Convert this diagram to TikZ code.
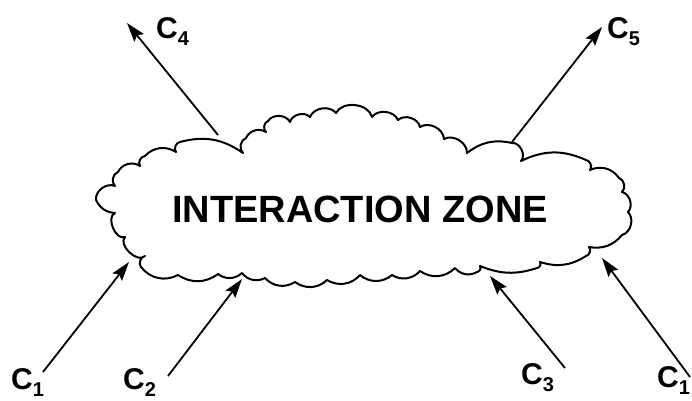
\documentclass[tikz,border=0pt]{standalone}
\usepackage{fontspec}
\setmainfont{Liberation Sans}
\usetikzlibrary{arrows.meta}

% label "C" with a lowered index
\newcommand\clabel[1]{{\fontsize{30}{30}\selectfont C}\raisebox{-7pt}{\fontsize{20}{20}\selectfont #1}}

\begin{document}
\begin{tikzpicture}[x=1pt,y=1pt,
  outline/.style={line width=2pt,line join=round},
  flow/.style={line width=1.8pt,-{Stealth[length=19pt,width=12pt,inset=3pt]}},
  clab/.style={inner sep=0pt,anchor=base west,font=\bfseries},
  zone/.style={inner sep=0pt,anchor=base,font=\bfseries\fontsize{38}{38}\selectfont}]
\useasboundingbox (0,0) rectangle (692,-400);

% the cloud outline, traced clockwise from its left tip
\draw[outline]
  (96,-200) to[bend left=60] (115,-186) to[bend left=60] (118,-172)
  to[bend left=50] (140,-166) to[bend left=60] (145,-156)
  to[bend left=40] (176,-152) to[bend left=60] (180,-142)
  to[bend left=25] (243,-153) to[bend left=60] (246,-138)
  to[bend left=50] (266,-132) to[bend left=60] (268,-121)
  to[bend left=60] (290,-122) to[bend left=60] (310,-117)
  to[bend left=60] (336,-113) to[bend left=70] (372,-117)
  to[bend left=60] (398,-120) to[bend left=60] (420,-127)
  to[bend left=60] (444,-139) to[bend left=60] (467,-153)
  to[bend left=25] (512,-143) to[bend left=70] (521,-161)
  to[bend left=25] (586,-160) to[bend left=60] (590,-170)
  to[bend left=40] (619,-178) to[bend left=60] (622,-192)
  to[bend left=60] (628,-212) to[bend left=60] (622,-235)
  to[bend left=30] (589,-247) to[bend left=60] (586,-256)
  to[bend left=25] (540,-262) to[bend left=60] (537,-268)
  to[bend left=20] (480,-266) to[bend left=60] (477,-272)
  to[bend left=40] (455,-268) to[bend left=40] (420,-271)
  to[bend left=40] (392,-275) to[bend left=40] (360,-275)
  to[bend left=40] (327,-280) to[bend left=40] (295,-282)
  to[bend left=40] (265,-278) to[bend left=40] (242,-273)
  to[bend left=40] (218,-274) to[bend left=35] (178,-275)
  to[bend left=40] (141,-267) to[bend left=60] (145,-256)
  to[bend left=90] (125,-237) to[bend left=90] (115,-213)
  to[bend left=30] cycle;

\node[zone] (zone) at (360,-222) {INTERACTION ZONE};

% labels
\node[clab] (c4)  at (156,-38)  {\clabel{4}};
\node[clab] (c5)  at (607,-38)  {\clabel{5}};
\node[clab] (c1a) at (11,-389)  {\clabel{1}};
\node[clab] (c2)  at (123,-389) {\clabel{2}};
\node[clab] (c3)  at (521,-384) {\clabel{3}};
\node[clab] (c1b) at (657,-387) {\clabel{1}};

% arrow ends
\coordinate (a1) at (43,-372);   \coordinate (t1) at (129,-262);
\coordinate (a2) at (168,-376);  \coordinate (t2) at (242,-279);
\coordinate (a3) at (565,-368);  \coordinate (t3) at (490,-276);
\coordinate (a6) at (690,-377);  \coordinate (t6) at (602,-258);
\coordinate (a4) at (218,-135);  \coordinate (t4) at (127,-23);
\coordinate (a5) at (512,-142);  \coordinate (t5) at (602,-27);

\draw[flow] (a1) -- (t1);
\draw[flow] (a2) -- (t2);
\draw[flow] (a3) -- (t3);
\draw[flow] (a6) -- (t6);
\draw[flow] (a4) -- (t4);
\draw[flow] (a5) -- (t5);
\end{tikzpicture}
\end{document}
